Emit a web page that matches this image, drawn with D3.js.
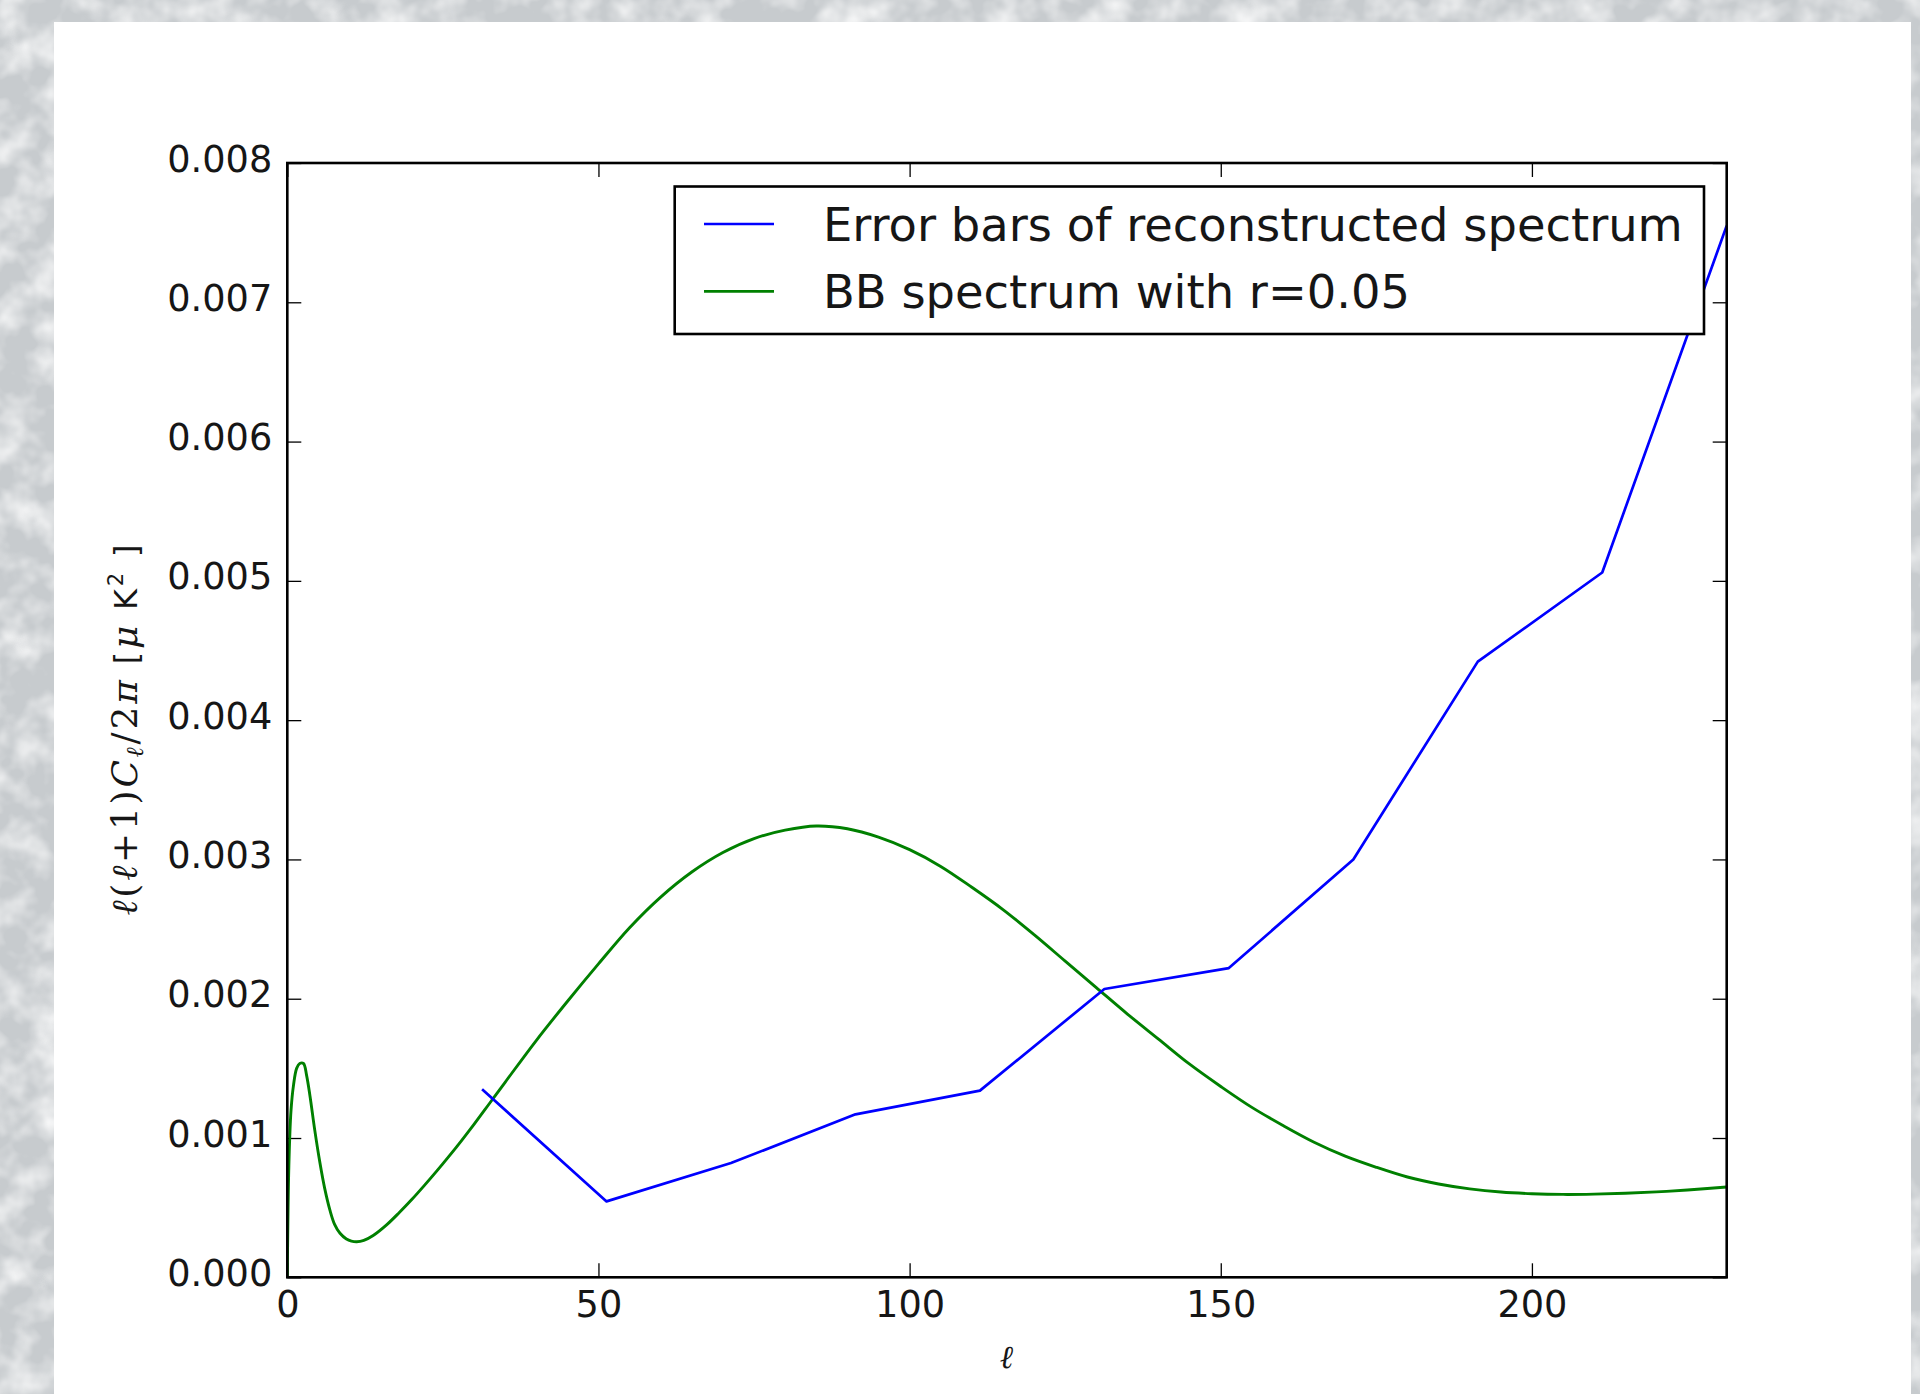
<!DOCTYPE html>
<html><head><meta charset="utf-8">
<script src="https://cdn.jsdelivr.net/npm/d3@7"></script>
<style>html,body{margin:0;padding:0;background:#c8ccce;} svg{display:block}</style>
</head><body>
<svg id="chart" width="1920" height="1394"></svg>
<script>
// ---- data ----
const xTicks = [0, 50, 100, 150, 200];
const yTicks = [0, 0.001, 0.002, 0.003, 0.004, 0.005, 0.006, 0.007, 0.008];
const legendLabels = ["Error bars of reconstructed spectrum", "BB spectrum with r=0.05"];

// Error bars of reconstructed spectrum (binned, blue)
const errEll = [31.3, 51.3, 71.3, 91.3, 111.3, 131.3, 151.3, 171.3, 191.3, 211.3, 231.3];
const errVal = [0.00135, 0.000545, 0.00082, 0.00117, 0.00134, 0.00207, 0.00222, 0.00300, 0.00442, 0.00506, 0.00755];

// BB spectrum with r=0.05 (green)
const bbEll = [0, 0.25, 0.6, 1.0, 1.5, 2.0, 2.6, 3.1, 3.65, 4.4, 5.25, 6.0, 6.86, 7.6, 8.47, 9.5, 10.3, 11.15, 12.3, 13.8,
  16, 18, 20, 22, 24, 26, 28, 30, 32.6, 35, 40, 45, 50, 55, 60, 65, 70, 75, 80, 85, 90, 95, 100, 105, 110, 115,
  120, 125, 130, 135, 140, 145, 150, 155, 160, 165, 170, 175, 180, 185, 190, 195, 200, 205, 210, 215, 220, 225, 231.3];
const bbVal = [0, 0.00080, 0.00120, 0.00138, 0.00150, 0.001535, 0.001535, 0.00145, 0.00130, 0.00106, 0.00082, 0.00064, 0.00048, 0.00038, 0.000316, 0.000275, 0.00026, 0.000255, 0.000265, 0.000300,
  0.000378, 0.000465, 0.000558, 0.000658, 0.000762, 0.000870, 0.000982, 0.001098, 0.001255, 0.001400, 0.00170, 0.00198, 0.00225, 0.00251, 0.00273, 0.00291, 0.00305, 0.00315, 0.00321, 0.00324, 0.00322, 0.00316, 0.00307, 0.00295, 0.00280, 0.00264,
  0.00246, 0.00227, 0.00208, 0.00189, 0.00171, 0.00153, 0.00137, 0.00122, 0.00109, 0.00097, 0.00087, 0.00079, 0.00072, 0.00067, 0.000635, 0.000612, 0.00060, 0.000595, 0.000597, 0.000603, 0.000613, 0.000627, 0.000648];

// ---- layout ----
const svg = d3.select("#chart");
const W = 1920, H = 1394;
const plot = {left: 287.3, right: 1726.7, top: 163, bottom: 1277.3};

const defs = svg.append("defs");
const f = defs.append("filter").attr("id", "noise").attr("x", 0).attr("y", 0).attr("width", "100%").attr("height", "100%");
f.append("feTurbulence").attr("type", "fractalNoise").attr("baseFrequency", "0.03").attr("numOctaves", 3).attr("seed", 11);
f.append("feColorMatrix").attr("type", "matrix")
  .attr("values", "0 0 0 0 1  0 0 0 0 1  0 0 0 0 1  1.6 0 0 0 -0.62");
defs.append("clipPath").attr("id", "plotclip").append("rect")
  .attr("x", plot.left).attr("y", plot.top).attr("width", plot.right - plot.left).attr("height", plot.bottom - plot.top);

// background texture
svg.append("rect").attr("width", W).attr("height", H).attr("fill", "#c7cbce");
svg.append("rect").attr("width", W).attr("height", H).attr("filter", "url(#noise)");
// white panel
svg.append("rect").attr("x", 54).attr("y", 22).attr("width", 1911 - 54).attr("height", H - 22).attr("fill", "#ffffff");

const x = d3.scaleLinear().domain([0, 231.3]).range([plot.left, plot.right]);
const y = d3.scaleLinear().domain([0, 0.008]).range([plot.bottom, plot.top]);

const tickLen = 14;
const fmtY = d3.format(".3f");

// axes (inward ticks on all four sides)
const axB = d3.axisBottom(x).tickValues(xTicks).tickSizeInner(-tickLen).tickSizeOuter(0).tickPadding(14).tickFormat(d3.format("d"));
const axT = d3.axisTop(x).tickValues(xTicks).tickSizeInner(-tickLen).tickSizeOuter(0).tickFormat("");
const axL = d3.axisLeft(y).tickValues(yTicks).tickSizeInner(-tickLen).tickSizeOuter(0).tickPadding(15).tickFormat(fmtY);
const axR = d3.axisRight(y).tickValues(yTicks).tickSizeInner(-tickLen).tickSizeOuter(0).tickFormat("");

function styleAxis(g) {
  g.select(".domain").remove();
  g.selectAll(".tick line").attr("stroke", "#000").attr("stroke-width", 1.3);
  g.selectAll(".tick text").attr("fill", "#161616").attr("font-family", "DejaVu Sans").attr("font-size", 36.7);
}
svg.append("g").attr("transform", `translate(0,${plot.bottom})`).call(axB).call(styleAxis)
  .selectAll(".tick text").attr("dy", "0.71em");
svg.append("g").attr("transform", `translate(0,${plot.top})`).call(axT).call(styleAxis);
svg.append("g").attr("transform", `translate(${plot.left},0)`).call(axL).call(styleAxis)
  .selectAll(".tick text").attr("dy", "0.22em");
svg.append("g").attr("transform", `translate(${plot.right},0)`).call(axR).call(styleAxis);

// lines
const bbData = bbEll.map((e, i) => [e, bbVal[i]]);
const errData = errEll.map((e, i) => [e, errVal[i]]);
const gLines = svg.append("g").attr("clip-path", "url(#plotclip)");
gLines.append("path").datum(bbData)
  .attr("d", d3.line().x(d => x(d[0])).y(d => y(d[1])).curve(d3.curveCatmullRom.alpha(0.5)))
  .attr("fill", "none").attr("stroke", "#008000").attr("stroke-width", 2.9).attr("stroke-linejoin", "round");
gLines.append("path").datum(errData)
  .attr("d", d3.line().x(d => x(d[0])).y(d => y(d[1])))
  .attr("fill", "none").attr("stroke", "#0000ff").attr("stroke-width", 2.7).attr("stroke-linejoin", "round");

// frame
svg.append("rect").attr("x", plot.left).attr("y", plot.top)
  .attr("width", plot.right - plot.left).attr("height", plot.bottom - plot.top)
  .attr("fill", "none").attr("stroke", "#000").attr("stroke-width", 2.6);

// legend
const lg = svg.append("g");
lg.append("rect").attr("x", 674.7).attr("y", 186.5).attr("width", 1704 - 674.7).attr("height", 334 - 186.5)
  .attr("fill", "#fff").attr("stroke", "#000").attr("stroke-width", 2.6);
const legendColors = ["#0000ff", "#008000"];
const legendY = [224, 291.4];
legendLabels.forEach((lab, i) => {
  lg.append("line").attr("x1", 704).attr("x2", 774).attr("y1", legendY[i]).attr("y2", legendY[i])
    .attr("stroke", legendColors[i]).attr("stroke-width", 2.7);
  lg.append("text").attr("x", 823).attr("y", legendY[i] + 16.5)
    .attr("font-family", "DejaVu Sans").attr("font-size", 46.4).attr("fill", "#161616").text(lab);
});

// x label
svg.append("text").attr("x", 1006.5).attr("y", 1368).attr("text-anchor", "middle")
  .attr("font-family", "DejaVu Serif").attr("font-style", "italic").attr("font-size", 32).attr("fill", "#161616").text("ℓ");

// y label
const yl = svg.append("text").attr("transform", "translate(137,730) rotate(-90)").attr("text-anchor", "middle")
  .attr("font-size", 36).attr("fill", "#161616")
  .attr("textLength", 371).attr("lengthAdjust", "spacing");
const serif = "DejaVu Serif";
yl.append("tspan").attr("font-family", serif).attr("font-style", "italic").text("ℓ");
yl.append("tspan").attr("font-family", serif).text("(");
yl.append("tspan").attr("font-family", serif).attr("font-style", "italic").text("ℓ");
yl.append("tspan").attr("font-family", serif).text("+1)");
yl.append("tspan").attr("font-family", serif).attr("font-style", "italic").text("C");
yl.append("tspan").attr("font-family", serif).attr("font-style", "italic").attr("font-size", 24).attr("dy", 6).text("ℓ");
yl.append("tspan").attr("font-family", serif).attr("dy", -6).text("/2");
yl.append("tspan").attr("font-family", serif).attr("font-style", "italic").text("π");
yl.append("tspan").attr("font-family", "DejaVu Sans").attr("font-size", 32).text(" [");
yl.append("tspan").attr("font-family", serif).attr("font-style", "italic").text("μ");
yl.append("tspan").attr("font-family", "DejaVu Sans").attr("font-size", 32).text(" K");
yl.append("tspan").attr("font-family", "DejaVu Sans").attr("font-size", 21).attr("dy", -14).text("2");
yl.append("tspan").attr("font-family", "DejaVu Sans").attr("font-size", 32).attr("dy", 14).text(" ]");
</script>
</body></html>
